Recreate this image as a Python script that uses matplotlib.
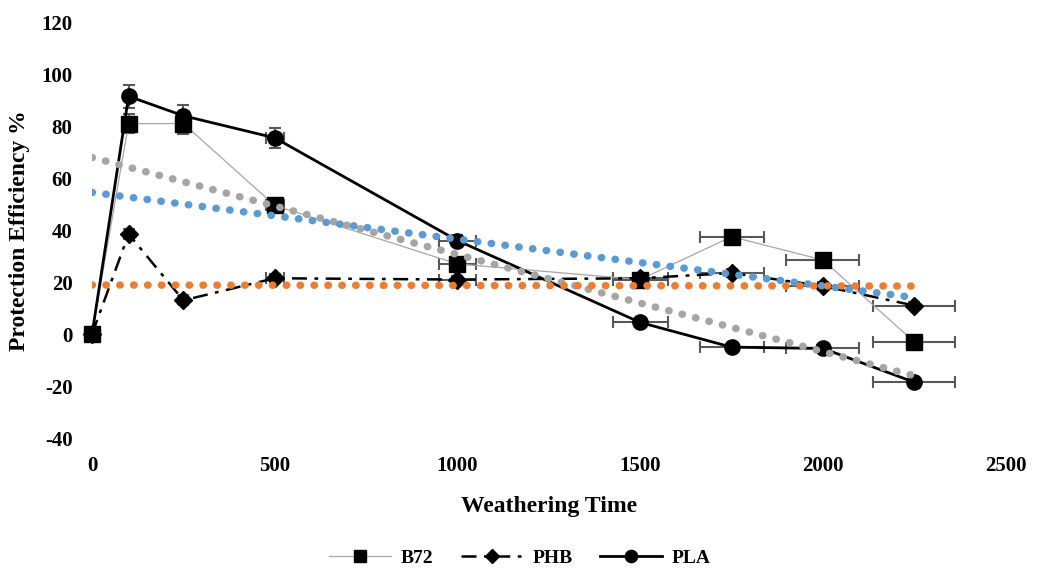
import matplotlib.pyplot as plt
from matplotlib.lines import Line2D
import numpy as np

# weathering time and protection efficiency (%)
time = [0, 100, 250, 500, 1000, 1500, 1750, 2000, 2250]
b72 = [0, 81, 81, 49.5, 27, 21, 37.5, 28.5, -3]
phb = [0, 38.5, 13, 21.5, 21, 21.5, 23.5, 18.5, 11]
pla = [0, 91.5, 84, 75.5, 36, 4.5, -5, -5.5, -18.5]

# error bars
time_err = [0, 5, 12.5, 25, 50, 75, 87.5, 100, 112.5]
b72_err = [0, 3.5, 4, 2, 1.5, 1.5, 2, 2, 2]
phb_err = [0, 2, 1.5, 1.5, 1.5, 1.5, 1.5, 1.5, 1.5]
pla_err = [0, 4.5, 4, 3.8, 2, 1.5, 1.5, 1.5, 1.5]

plt.rcParams['font.family'] = ['Liberation Serif', 'DejaVu Serif']
plt.rcParams['font.weight'] = 'bold'
plt.rcParams['axes.unicode_minus'] = False

fig = plt.figure(figsize=(10.4, 5.69), dpi=100)
ax = fig.add_axes([0.0885, 0.230, 0.8785, 0.731])

err_kw = dict(ecolor='#595959', elinewidth=1.5, capsize=4, capthick=1.5)
styles = {
    'B72': dict(color='#a6a6a6', lw=0.9, linestyle='-', marker='s', markersize=11.5),
    'PHB': dict(color='black', lw=1.8, linestyle=(0, (6, 3, 1.5, 3)), marker='D', markersize=9.5),
    'PLA': dict(color='black', lw=2, linestyle='-', marker='o', markersize=11),
}

handles = []
for name, ys, ye in [('B72', b72, b72_err), ('PHB', phb, phb_err), ('PLA', pla, pla_err)]:
    st = styles[name]
    ax.errorbar(time, ys, xerr=time_err, yerr=ye, mfc='black', mec='black',
                clip_on=False, zorder=3, **st, **err_kw)
    leg_st = dict(st, markersize=st['markersize'] * 0.8)
    handles.append(Line2D([], [], mfc='black', mec='black', label=name, **leg_st))

# linear trend lines
xs = np.array([time[0], time[-1]])
trend_colors = {'PLA': ('#a5a5a5', pla), 'B72': ('#5b9bd5', b72), 'PHB': ('#ed7d31', phb)}
for name, (col, ys) in trend_colors.items():
    k, b = np.polyfit(time, ys, 1)
    ax.plot(xs, k * xs + b, color=col, lw=5.4, linestyle=(0, (0.05, 1.8)),
            dash_capstyle='round', zorder=4)

ax.set_xlim(0, 2500)
ax.set_ylim(-40, 120)
ax.set_xticks(range(0, 2501, 500))
ax.set_yticks(range(-40, 121, 20))
for s in ax.spines.values():
    s.set_visible(False)
ax.tick_params(axis='both', length=0, labelsize=15)
ax.tick_params(axis='x', pad=13)
ax.tick_params(axis='y', pad=14)

ax.set_xlabel('Weathering Time', fontsize=17, fontweight='bold', labelpad=14)
ax.set_ylabel('Protection Efficiency %', fontsize=17, fontweight='bold', labelpad=8)

fig.legend(handles=handles, loc='center', bbox_to_anchor=(0.5, 0.019), ncol=3,
           frameon=False, fontsize=14, handlelength=3.2, handletextpad=0.5,
           columnspacing=1.4)

plt.savefig('out.png', dpi=100)
